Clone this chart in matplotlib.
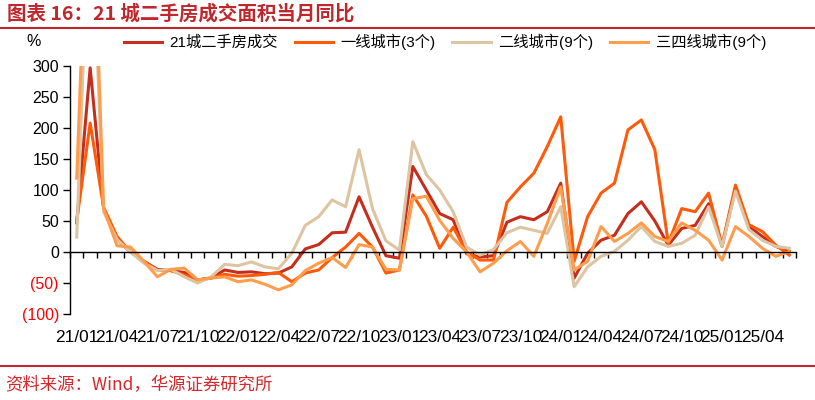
import numpy as np
import matplotlib
matplotlib.use("Agg")
import matplotlib.pyplot as plt
import matplotlib.transforms as mtransforms

plt.rcParams['font.family'] = ['Liberation Sans', 'Noto Sans CJK SC', 'DejaVu Sans']

# months 21/01 .. 25/06
months = [f"{21 + i // 12}/{i % 12 + 1:02d}" for i in range(54)]
tick_labels = [m for i, m in enumerate(months) if i % 3 == 0]

city21 = [47, 297, 70, 20, 0, -15, -28, -30, -33, -45,
          -42, -29, -33, -32, -35, -34, -24, 5, 12, 31,
          32, 89, 40, -6, -10, 138, 100, 62, 52, -3,
          -8, -6, 48, 57, 52, 65, 111, -42, -2, 19,
          27, 62, 81, 50, 11, 38, 43, 78, 9, 103,
          41, 25, 9, 1]
tier1 = [50, 208, 72, 25, 0, -15, -29, -30, -37, -45,
         -42, -36, -39, -38, -36, -33, -48, -34, -29, -9,
         8, 30, 8, -34, -29, 92, 58, 6, 40, 0,
         -13, -13, 80, 105, 127, 170, 218, -15, 57, 95,
         111, 197, 213, 165, 14, 70, 65, 95, 11, 108,
         44, 33, 11, -5]
tier2 = [24, 600, 65, 20, 0, -18, -30, -28, -40, -50,
         -40, -20, -22, -16, -24, -27, -2, 43, 57, 84,
         73, 165, 70, 18, 3, 178, 125, 100, 65, 8,
         -5, 4, 31, 40, 35, 30, 73, -56, -24, -7,
         1, 19, 41, 17, 9, 14, 27, 73, 9, 98,
         36, 19, 9, 6]
tier34 = [119, 700, 70, 10, 8, -15, -40, -28, -26, -45,
          -42, -40, -48, -45, -52, -61, -53, -30, -18, -9,
          -25, 12, 8, -28, -29, 86, 90, 51, 22, 0,
          -32, -18, 2, 17, -7, 46, 105, -29, -15, 41,
          17, 30, 47, 25, 17, 47, 35, 19, -13, 41,
          25, 6, -7, 1]

names = ['21城二手房成交', '一线城市(3个)', '二线城市(9个)', '三四线城市(9个)']
colors = ['#C52E1C', '#FF5A0A', '#DDC4A2', '#FF9D4C']
series = [city21, tier1, tier2, tier34]

fig = plt.figure(figsize=(8.15, 4.0), dpi=100)
ax = fig.add_axes([70 / 815, 1 - 314 / 400, 726 / 815, 248 / 400])

x = np.arange(len(months))
for s, c, n in zip(series, colors, names):
    ax.plot(x, s, color=c, lw=2.2, label=n, solid_joinstyle='round')

ax.set_xlim(-0.5, len(months) - 0.5)
ax.set_ylim(-100, 300)
ax.set_yticks(range(-100, 301, 50))
ylabels = []
for v in range(-100, 301, 50):
    ylabels.append(f"({abs(v)})" if v < 0 else str(v))
ax.set_yticklabels(ylabels, fontsize=11.5)
for lab, v in zip(ax.get_yticklabels(), range(-100, 301, 50)):
    if v < 0:
        lab.set_color('#FF0000')
ax.tick_params(axis='y', direction='out', length=5, width=1, pad=3)

for sp in ['top', 'right']:
    ax.spines[sp].set_visible(False)
ax.spines['bottom'].set_position(('data', 0))
ax.spines['bottom'].set_linewidth(1)
ax.spines['left'].set_linewidth(1)
ax.set_xticks(np.arange(-0.5, len(months), 1))
ax.set_xticklabels([])
ax.tick_params(axis='x', direction='out', length=4.5, width=1)

trans = mtransforms.blended_transform_factory(ax.transData, ax.transAxes)
for i, lab in enumerate(tick_labels):
    ax.text(i * 3, -0.093, lab, transform=trans, ha='center', va='center',
            fontsize=12.4)

# title and decorations
fig.text(7 / 815, 1 - 14 / 400, '图表 16：21 城二手房成交面积当月同比', fontsize=14,
         fontweight='bold', color='#C0272D', ha='left', va='center',
         family=['Noto Sans CJK SC', 'DejaVu Sans'])
fig.add_artist(plt.Line2D([0, 1], [1 - 28 / 400] * 2, color='#C0272D', lw=1.5))
fig.add_artist(plt.Line2D([0, 1], [1 - 366 / 400] * 2, color='#C0272D', lw=1.5))
fig.text(5 / 815, 1 - 385 / 400, '资料来源：Wind，华源证券研究所', fontsize=12.5,
         color='#D8262B', ha='left', va='center',
         family=['Noto Sans CJK SC', 'DejaVu Sans'])
fig.text(34 / 815, 1 - 42 / 400, '%', fontsize=11.5, ha='center', va='center')

fig.legend(loc='center', bbox_to_anchor=(445 / 815, 1 - 42 / 400), ncol=4,
           frameon=False, fontsize=11, handlelength=2.5, handletextpad=0.5,
           columnspacing=1.1, borderpad=0)

fig.savefig('out.png', dpi=100)
